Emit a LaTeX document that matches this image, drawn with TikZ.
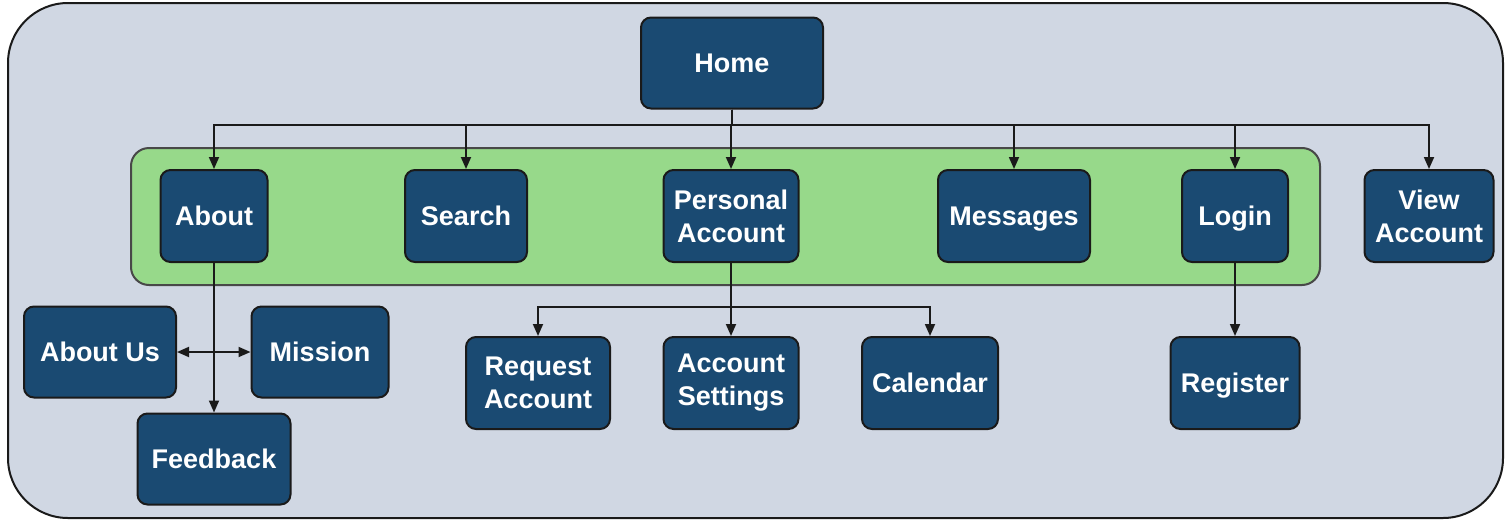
\documentclass[tikz,border=0pt]{standalone}
\usepackage{fontspec}
\setmainfont{Liberation Sans}
\usetikzlibrary{arrows.meta}
\definecolor{bgc}{HTML}{D0D7E3}
\definecolor{grn}{HTML}{97D98A}
\definecolor{nodec}{HTML}{1A4A72}
\definecolor{edgec}{HTML}{1A1A1A}
\tikzset{
  pg/.style={draw=edgec, line width=1pt, fill=nodec, rounded corners=5pt, text=white,
    font=\bfseries\fontsize{13.5}{16.5}\selectfont, align=center, inner sep=0pt},
  oneline/.style={text height=9.7pt, text depth=0pt},
  conn/.style={draw=edgec, line width=0.9pt, -{Triangle[width=5pt,length=6pt]}},
}
\newcommand{\pgnode}[7]{\node[pg, #7, minimum width=#4*0.5pt, minimum height=#5*0.5pt] (#1) at (#2,#3) {#6};}
\begin{document}
\begin{tikzpicture}[x=0.5pt,y=-0.5pt]
\useasboundingbox (0,0) rectangle (1505,520);
\draw[draw=edgec, line width=1pt, fill=bgc, rounded corners=30pt] (8,3) rectangle (1503,518);
\draw[draw=edgec!80, line width=1pt, fill=grn, rounded corners=9pt] (131,148) rectangle (1320,285);
\pgnode{home}{732}{63}{182}{91}{Home}{oneline}
\pgnode{about}{214}{216}{107}{92}{About}{oneline}
\pgnode{search}{466}{216}{122}{92}{Search}{oneline}
\pgnode{pers}{731}{216}{135}{92}{Personal\\Account}{}
\pgnode{msg}{1014}{216}{152}{92}{Messages}{oneline}
\pgnode{login}{1235}{216}{106}{92}{Login}{oneline}
\pgnode{view}{1429}{216}{129}{92}{View\\Account}{}
\pgnode{aboutus}{100}{352}{152}{91}{About Us}{oneline}
\pgnode{mission}{320}{352}{137}{91}{Mission}{oneline}
\pgnode{feedback}{214}{459}{153}{91}{Feedback}{oneline}
\pgnode{request}{538}{383}{144}{92}{Request\\Account}{}
\pgnode{settings}{731}{383}{135}{92}{Account\\Settings}{}
\pgnode{calendar}{930}{383}{136}{92}{Calendar}{oneline}
\pgnode{register}{1235}{383}{129}{92}{Register}{oneline}
\coordinate (hb) at (732,125);
\coordinate (pb) at (731,307);
\foreach \t in {about,search,pers,msg,login,view}
  \draw[conn] (home.south) -- (hb) -| (\t.north);
\foreach \t in {request,settings,calendar}
  \draw[conn] (pers.south) -- (pb) -| (\t.north);
\draw[conn] (about.south) -- (feedback.north);
\draw[conn] (about.south) |- (aboutus.east);
\draw[conn] (about.south) |- (mission.west);
\draw[conn] (login.south) -- (register.north);
\end{tikzpicture}
\end{document}
